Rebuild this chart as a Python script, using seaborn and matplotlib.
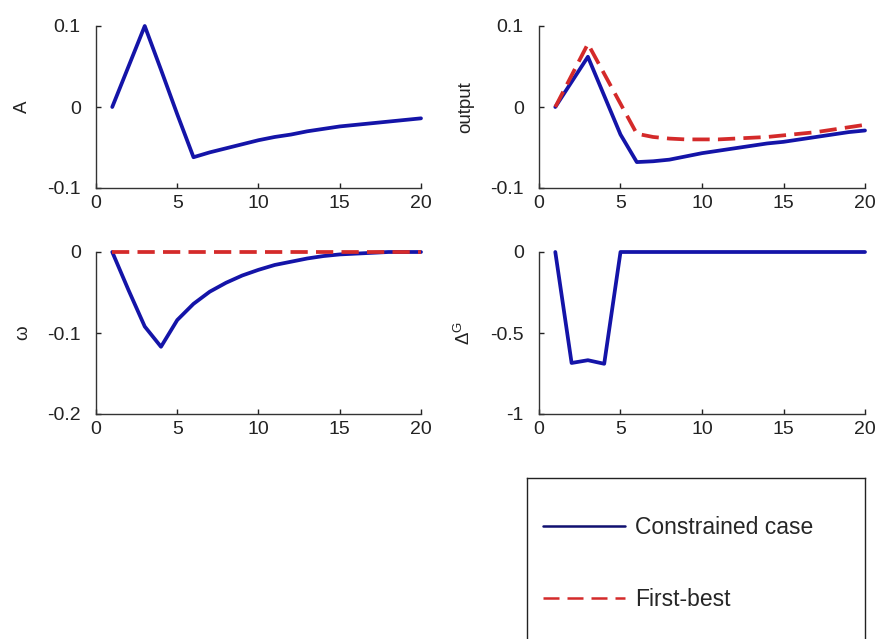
import numpy as np
import matplotlib
matplotlib.use("Agg")
import matplotlib.pyplot as plt
from matplotlib.lines import Line2D
import seaborn as sns

# periods 1..20
periods = list(range(1, 21))

A_con = [0, 0.05, 0.1, 0.046, -0.009, -0.062, -0.056, -0.051, -0.046, -0.041,
         -0.037, -0.034, -0.030, -0.027, -0.024, -0.022, -0.020, -0.018, -0.016, -0.014]

output_con = [0, 0.031, 0.062, 0.014, -0.034, -0.068, -0.067, -0.065, -0.061, -0.057,
              -0.054, -0.051, -0.048, -0.045, -0.043, -0.040, -0.037, -0.034, -0.031, -0.029]
output_fb = [0, 0.039, 0.078, 0.041, 0.004, -0.033, -0.037, -0.039, -0.040, -0.040,
             -0.040, -0.039, -0.038, -0.037, -0.035, -0.033, -0.031, -0.028, -0.025, -0.022]

omega_con = [0, -0.047, -0.092, -0.117, -0.084, -0.064, -0.049, -0.038, -0.029, -0.022,
             -0.016, -0.012, -0.008, -0.005, -0.003, -0.002, -0.001, 0, 0, 0]
omega_fb = [0] * 20

deltaG_con = [0, -0.685, -0.668, -0.69, 0, 0, 0, 0, 0, 0,
              0, 0, 0, 0, 0, 0, 0, 0, 0, 0]

panel_labels = ["A", "output", "ω", r"$\mathregular{\Delta^G}$"]
panel_yticks = [[-0.1, 0, 0.1], [-0.1, 0, 0.1], [-0.2, -0.1, 0], [-1, -0.5, 0]]
panel_yticklabels = [["-0.1", "0", "0.1"], ["-0.1", "0", "0.1"],
                     ["-0.2", "-0.1", "0"], ["-1", "-0.5", "0"]]
legend_labels = ["Constrained case", "First-best"]

BLUE = "#1414a8"
RED = "#d42a2a"

sns.set_style("white")
plt.rcParams['font.family'] = ['Liberation Sans', 'DejaVu Sans']
plt.rcParams['mathtext.fontset'] = 'dejavusans'

fig = plt.figure(figsize=(8.78, 6.39), dpi=100)

W, H = 878, 639
def px_axes(l, t, r, b):
    return fig.add_axes([l / W, 1 - b / H, (r - l) / W, (b - t) / H])

axes = [px_axes(96, 26, 421, 188), px_axes(539, 26, 865, 188),
        px_axes(96, 252, 421, 414), px_axes(539, 252, 865, 414)]

series = [
    [(A_con, BLUE, "-")],
    [(output_con, BLUE, "-"), (output_fb, RED, "--")],
    [(omega_con, BLUE, "-"), (omega_fb, RED, "--")],
    [(deltaG_con, BLUE, "-")],
]

for ax, ser, lab, yt, ytl in zip(axes, series, panel_labels, panel_yticks, panel_yticklabels):
    for vals, col, ls in ser:
        sns.lineplot(x=periods, y=vals, ax=ax, color=col, linewidth=2.7, linestyle=ls)
        ln = ax.lines[-1]
        ln.set_clip_on(False)
        if ls == "--":
            ln.set_dashes([4.6, 2.2])
    ax.set_xlim(0, 20)
    ax.set_ylim(yt[0], yt[-1])
    ax.set_xticks([0, 5, 10, 15, 20])
    ax.set_yticks(yt)
    ax.set_yticklabels(ytl)
    ax.tick_params(direction="in", length=3.5, width=1, labelsize=14, colors="#222222",
                   bottom=True, left=True)
    ax.tick_params(axis="x", pad=5)
    ax.tick_params(axis="y", pad=11)
    for s in ["top", "right"]:
        ax.spines[s].set_visible(False)
    for s in ["left", "bottom"]:
        ax.spines[s].set_color("#333333")
        ax.spines[s].set_linewidth(1)
    ax.set_ylabel(lab, fontsize=13.5, color="#222222")
    ax.yaxis.set_label_coords(-0.2, 0.5)
    ax.set_xlabel("")

# legend box
lax = fig.add_axes([527 / W, 1 - 680 / H, (865 - 527) / W, (680 - 478) / H])
lax.set_xticks([])
lax.set_yticks([])
for s in lax.spines.values():
    s.set_color("#222222")
    s.set_linewidth(1)

handles = [Line2D([], [], color="#101070", lw=1.8, ls="-"),
           Line2D([], [], color=RED, lw=1.8, ls=(0, (6.4, 3.2)))]
box_h = 680 - 478
lax.legend(handles, legend_labels, loc="upper left",
           bbox_to_anchor=(16 / 338, 1 - 38 / box_h), frameon=False,
           fontsize=16.5, handlelength=3.6, handletextpad=0.4,
           labelspacing=2.16, borderpad=0, borderaxespad=0)

fig.savefig("out.png", dpi=100)
